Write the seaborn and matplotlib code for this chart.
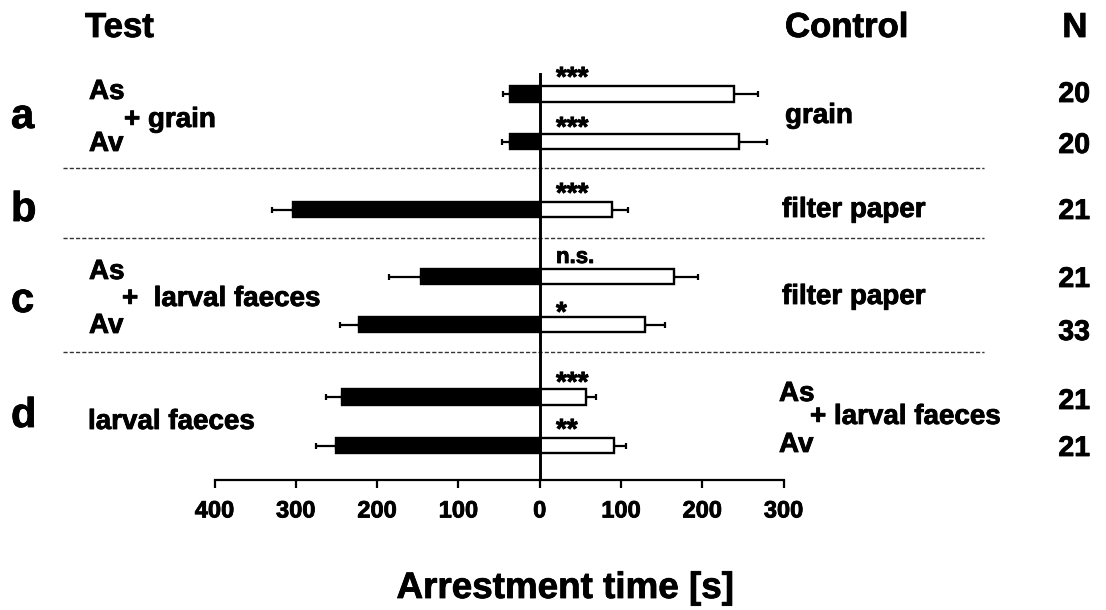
import numpy as np
import pandas as pd
import matplotlib
matplotlib.use('Agg')
import matplotlib.pyplot as plt
import matplotlib.patheffects as pe
import seaborn as sns

# ---------------- data ----------------
rows = ['a1', 'a2', 'b', 'c1', 'c2', 'd1', 'd2']
test_mean = [36, 37, 304, 146, 222, 243, 250]
test_err = [9, 9, 25, 39, 24, 20, 25]
control_mean = [239, 245, 89, 165, 130, 57, 91]
control_err = [30, 35, 19, 30, 24, 12, 15]
n_values = ['20', '20', '21', '21', '33', '21', '21']
signif = ['***', '***', '***', 'n.s.', '*', '***', '**']
tick_values = [-400, -300, -200, -100, 0, 100, 200, 300]
tick_labels = ['400', '300', '200', '100', '0', '100', '200', '300']

# ---------------- layout (pixel based) ----------------
W, H = 1106, 610
row_y = [94, 141.5, 209.5, 276.5, 324.5, 397, 445.5]
sep_y = [168, 238, 351.5]
ax_left, ax_right = 214.5, 783.6
ax_top, ax_bot = 73, 480

sns.set_theme(style='white')
plt.rcParams['font.family'] = ['Liberation Sans', 'DejaVu Sans']
plt.rcParams['font.weight'] = 'bold'

heavy = [pe.withStroke(linewidth=0.6, foreground='black')]

fig = plt.figure(figsize=(W / 100, H / 100), dpi=100)
fig.patch.set_facecolor('white')
ax = fig.add_axes([ax_left / W, 1 - ax_bot / H, (ax_right - ax_left) / W, (ax_bot - ax_top) / H])
ax.set_facecolor('white')

df = pd.DataFrame({
    'row': rows * 2,
    'y': row_y * 2,
    'value': [-v for v in test_mean] + control_mean,
    'side': ['Test'] * len(rows) + ['Control'] * len(rows),
})

sns.barplot(data=df, x='value', y='y', hue='side', hue_order=['Test', 'Control'],
            palette={'Test': 'black', 'Control': 'white'}, orient='y',
            native_scale=True, dodge=False, width=0.33, edgecolor='black',
            linewidth=1.7, errorbar=None, legend=False, ax=ax, zorder=3)

# one-sided error bars
ax.errorbar([-v for v in test_mean], row_y, xerr=[test_err, [0] * len(rows)],
            fmt='none', ecolor='black', elinewidth=1.6, capsize=2.5, capthick=1.6, zorder=2)
ax.errorbar(control_mean, row_y, xerr=[[0] * len(rows), control_err],
            fmt='none', ecolor='black', elinewidth=1.6, capsize=2.5, capthick=1.6, zorder=2)

ax.set_xlim(-400, 300)
ax.set_ylim(ax_bot, ax_top)
ax.set_xticks(tick_values)
ax.set_xticklabels(tick_labels, fontsize=17, fontweight='bold', color='black')
for lab in ax.get_xticklabels():
    lab.set_path_effects(heavy)
ax.set_yticks([])
ax.set_xlabel('')
ax.set_ylabel('')
for s in ['left', 'right', 'top']:
    ax.spines[s].set_visible(False)
ax.spines['bottom'].set_color('black')
ax.spines['bottom'].set_linewidth(1.6)
ax.tick_params(axis='x', direction='out', length=6, width=1.6, color='black',
               labelcolor='black', pad=8, bottom=True)
ax.axvline(0, color='black', lw=2.1, zorder=6)

# dashed separators
px2x = 700 / (ax_right - ax_left)
for y in sep_y:
    ax.plot([(62 - 539.1) * px2x, (983 - 539.1) * px2x], [y, y], ls=(0, (3, 1.5)),
            color='#333333', lw=1, clip_on=False, zorder=1)


def t(x, y, s, size, ha='left', va='baseline'):
    fig.text(x / W, 1 - y / H, s, fontsize=size, fontweight='bold', ha=ha, va=va,
             color='black', path_effects=heavy)


# headers
t(85, 37, 'Test', 25)
t(785, 37, 'Control', 25)
t(1075, 37, 'N', 25, ha='center')

# panel letters
t(11, 128, 'a', 30)
t(11, 221, 'b', 30)
t(11, 312, 'c', 30)
t(11, 427, 'd', 30)

# test labels
t(89, 99, 'As', 20)
t(89, 151, 'Av', 20)
t(124, 127, '+ grain', 20)
t(89, 279, 'As', 20)
t(89, 333, 'Av', 20)
t(122, 306, '+  larval faeces', 20)
t(88, 429, 'larval faeces', 20)

# control labels
t(785, 123, 'grain', 20)
t(782, 217, 'filter paper', 20)
t(782, 304, 'filter paper', 20)
t(779, 401, 'As', 20)
t(779, 452, 'Av', 20)
t(810, 424, '+ larval faeces', 20)

# N values
n_base = [102, 153, 219, 287, 340, 409, 456]
for yb, nv in zip(n_base, n_values):
    t(1090, yb, nv, 20.5, ha='right')

# significance
sig_base = [86, 136, 202, 263, 321, 391, 438]
for yb, s in zip(sig_base, signif):
    t(556, yb, s, 20 if s != 'n.s.' else 16)

# x label
t(565, 598, 'Arrestment time [s]', 26.5, ha='center')

fig.savefig('out.png', dpi=100, facecolor='white')
